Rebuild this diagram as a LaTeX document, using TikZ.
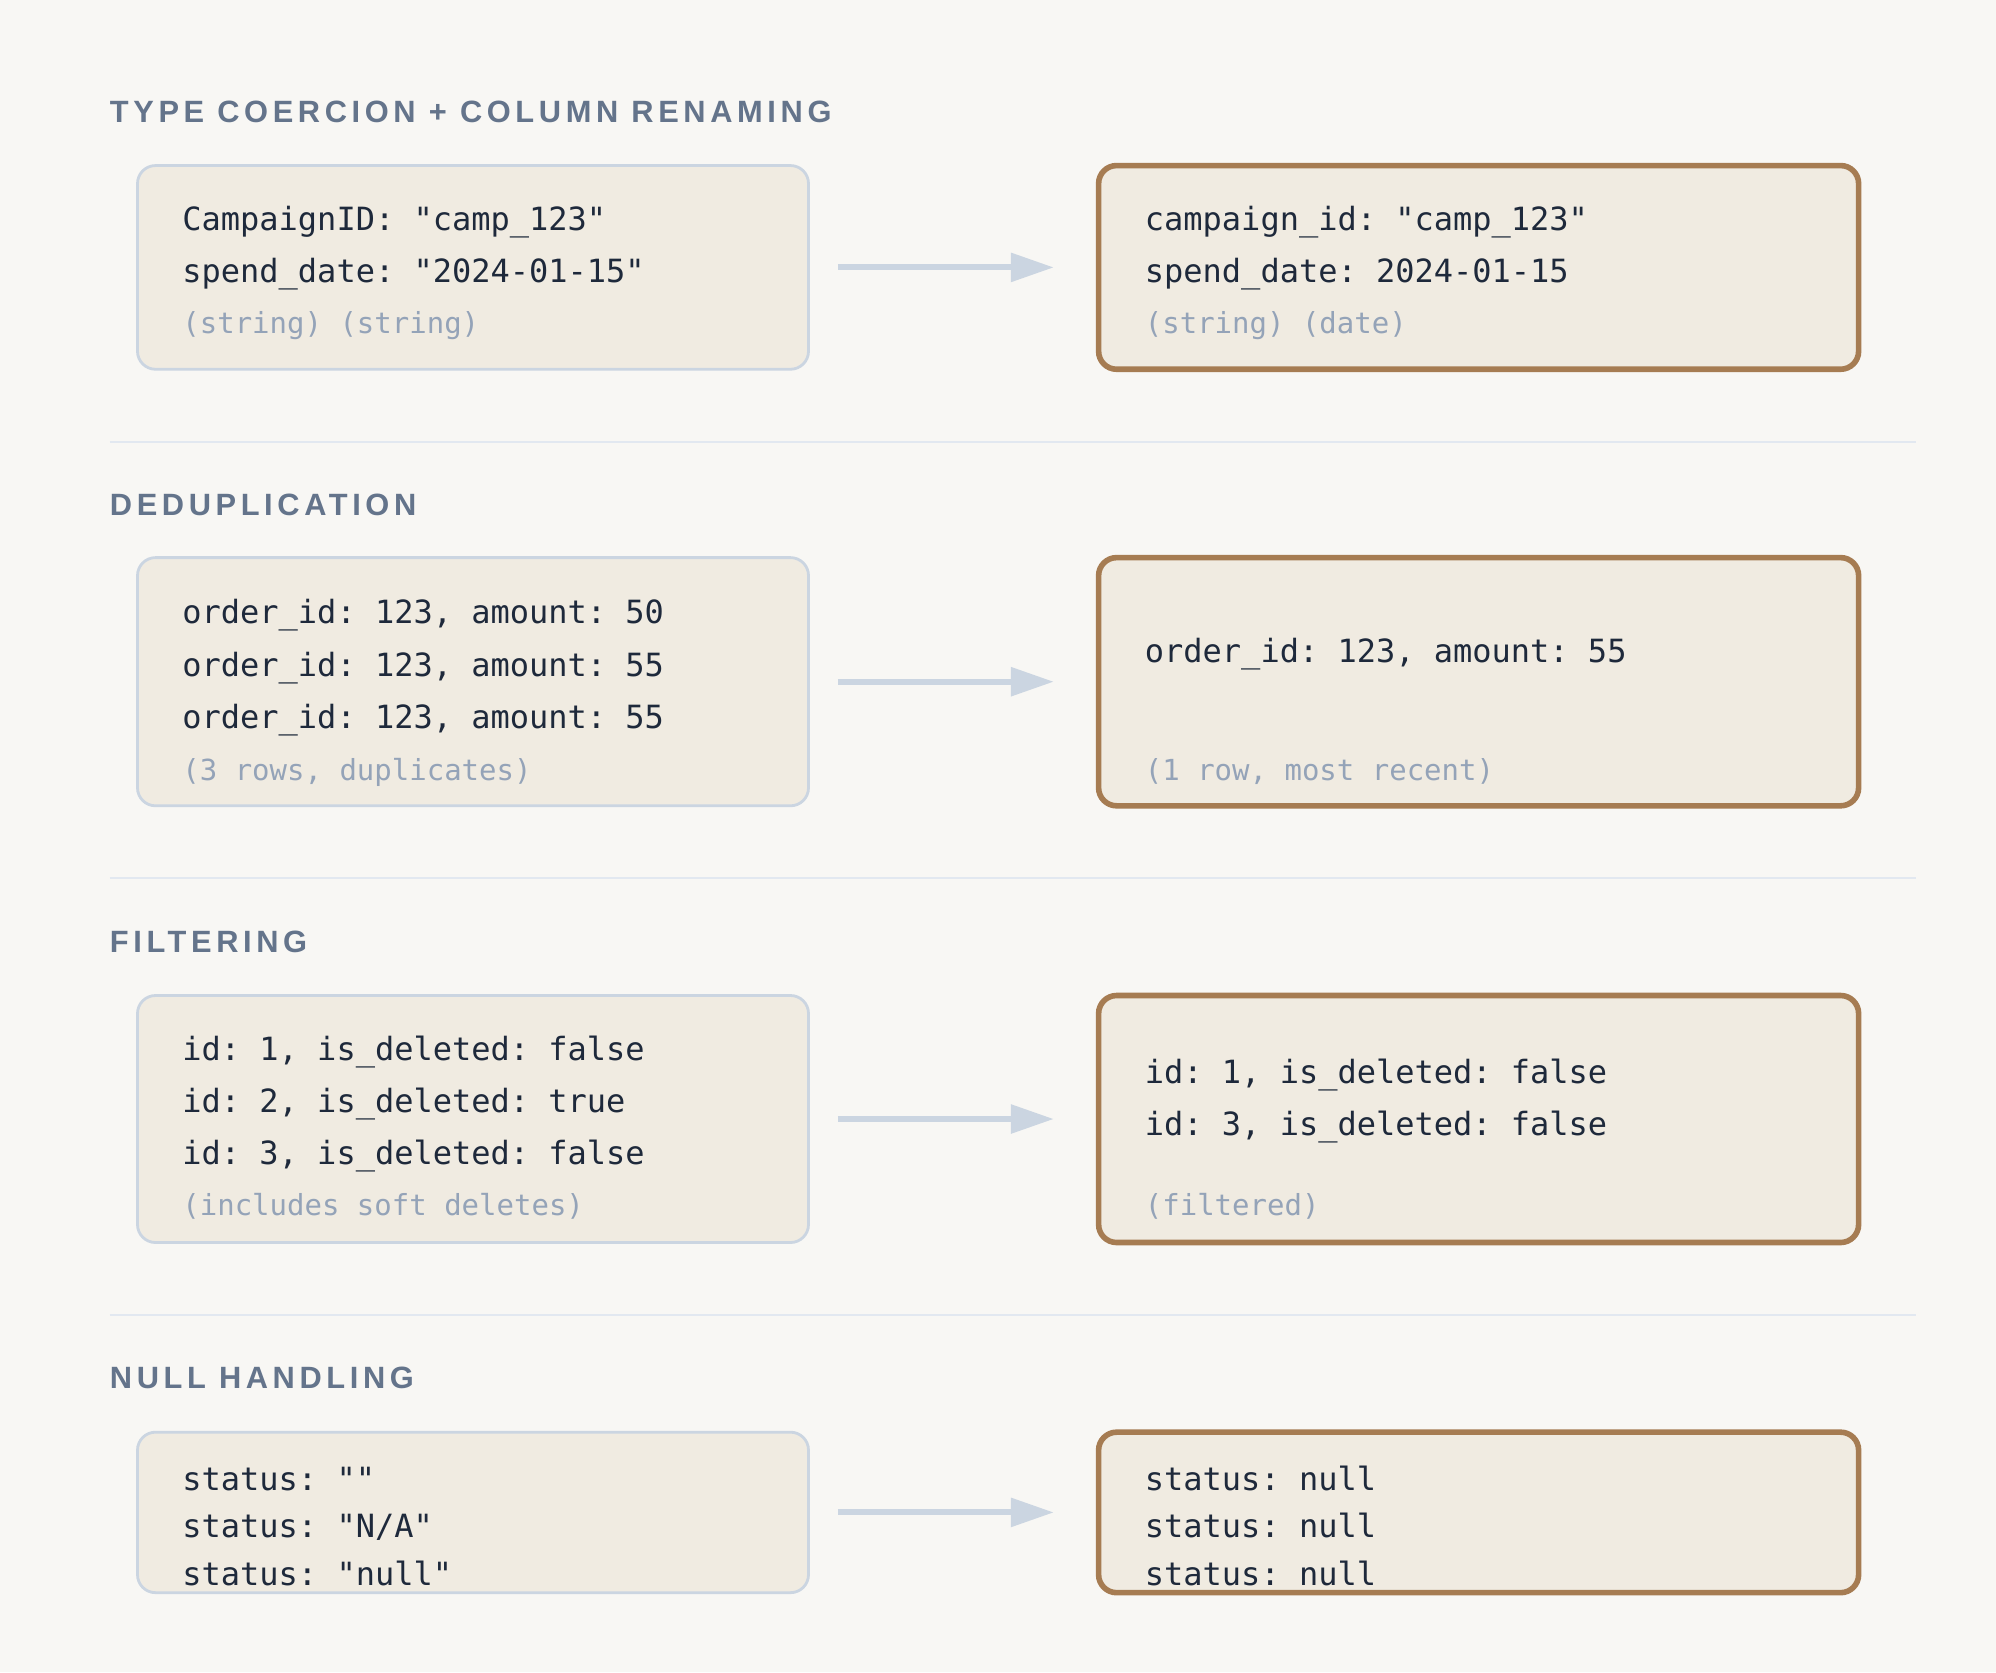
\documentclass[tikz,border=0pt]{standalone}
\usepackage{fontspec}
\setmonofont{DejaVu Sans Mono}
\newfontfamily\headfont[LetterSpace=15]{Liberation Sans}
\usetikzlibrary{arrows.meta}
\definecolor{bg}{HTML}{F8F7F4}
\definecolor{boxfill}{HTML}{F0EBE1}
\definecolor{lborder}{HTML}{CBD5E1}
\definecolor{rborder}{HTML}{A67C52}
\definecolor{ink}{HTML}{1E293B}
\definecolor{note}{HTML}{94A3B8}
\definecolor{head}{HTML}{64748B}
\definecolor{sep}{HTML}{E2E8F0}
\definecolor{arrowc}{HTML}{CBD5E1}
\tikzset{
  lbox/.style={draw=lborder, line width=1.4pt, fill=boxfill, rounded corners=9pt, inner sep=0pt},
  rbox/.style={draw=rborder, line width=2.8pt, fill=boxfill, rounded corners=9pt, inner sep=0pt},
  txt/.style={anchor=base west, inner sep=0pt, text=ink, font=\ttfamily\fontsize{16pt}{19pt}\selectfont},
  notetxt/.style={anchor=base west, inner sep=0pt, text=note, font=\ttfamily\fontsize{14.5pt}{17pt}\selectfont},
  heading/.style={anchor=base west, inner sep=0pt, text=head, font=\headfont\bfseries\fontsize{15.4pt}{18pt}\selectfont},
  sepline/.style={draw=sep, line width=1pt},
  flow/.style={draw=arrowc, line width=3pt, -{Triangle[length=21.5pt,width=14pt]}, shorten <=14pt, shorten >=21pt}
}
\begin{document}
\begin{tikzpicture}[x=0.5pt,y=-0.5pt]
\fill[bg] (0,0) rectangle (1996,1672);
\useasboundingbox (0,0) rectangle (1996,1672);

% headings
\node[heading] (h1) at (109.5,122) {TYPE COERCION + COLUMN RENAMING};
\node[heading] (h2) at (109.5,515) {DEDUPLICATION};
\node[heading] (h3) at (109.5,952) {FILTERING};
\node[heading] (h4) at (109.5,1388) {NULL HANDLING};

% separators
\coordinate (s1a) at (109.5,441.7); \coordinate (s1b) at (1916,441.7);
\coordinate (s2a) at (109.5,878.4); \coordinate (s2b) at (1916,878.4);
\coordinate (s3a) at (109.5,1315); \coordinate (s3b) at (1916,1315);
\draw[sepline] (s1a) -- (s1b);
\draw[sepline] (s2a) -- (s2b);
\draw[sepline] (s3a) -- (s3b);

% boxes
\node[lbox, minimum width=335.5pt, minimum height=101.85pt] (a1) at (473,267.4) {};
\node[rbox, minimum width=380pt, minimum height=101.85pt] (b1) at (1478.6,267.4) {};
\node[lbox, minimum width=335.5pt, minimum height=124.1pt] (a2) at (473,681.7) {};
\node[rbox, minimum width=380pt, minimum height=124.1pt] (b2) at (1478.6,681.7) {};
\node[lbox, minimum width=335.5pt, minimum height=123.5pt] (a3) at (473,1119) {};
\node[rbox, minimum width=380pt, minimum height=123.5pt] (b3) at (1478.6,1119) {};
\node[lbox, minimum width=335.5pt, minimum height=80.25pt] (a4) at (473,1512.4) {};
\node[rbox, minimum width=380pt, minimum height=80.25pt] (b4) at (1478.6,1512.4) {};

% arrows
\draw[flow] (a1.east) -- (b1.west);
\draw[flow] (a2.east) -- (b2.west);
\draw[flow] (a3.east) -- (b3.west);
\draw[flow] (a4.east) -- (b4.west);

% section 1 texts
\node[txt] (a1t1) at (182,230.5) {CampaignID: "camp\_123"};
\node[txt] (a1t2) at (182,282.5) {spend\_date: "2024-01-15"};
\node[notetxt] (a1n) at (182,333) {(string) (string)};
\node[txt] (b1t1) at (1144.5,230.5) {campaign\_id: "camp\_123"};
\node[txt] (b1t2) at (1144.5,282.5) {spend\_date: 2024-01-15};
\node[notetxt] (b1n) at (1144.5,333) {(string) (date)};

% section 2 texts
\node[txt] (a2t1) at (182,623.5) {order\_id: 123, amount: 50};
\node[txt] (a2t2) at (182,676) {order\_id: 123, amount: 55};
\node[txt] (a2t3) at (182,728) {order\_id: 123, amount: 55};
\node[notetxt] (a2n) at (182,780) {(3 rows, duplicates)};
\node[txt] (b2t1) at (1144.5,662) {order\_id: 123, amount: 55};
\node[notetxt] (b2n) at (1144.5,780) {(1 row, most recent)};

% section 3 texts
\node[txt] (a3t1) at (182,1060.5) {id: 1, is\_deleted: false};
\node[txt] (a3t2) at (182,1112.5) {id: 2, is\_deleted: true};
\node[txt] (a3t3) at (182,1164.5) {id: 3, is\_deleted: false};
\node[notetxt] (a3n) at (182,1215.5) {(includes soft deletes)};
\node[txt] (b3t1) at (1144.5,1083.5) {id: 1, is\_deleted: false};
\node[txt] (b3t2) at (1144.5,1135.5) {id: 3, is\_deleted: false};
\node[notetxt] (b3n) at (1144.5,1215.5) {(filtered)};

% section 4 texts
\node[txt] (a4t1) at (182,1490.5) {status: ""};
\node[txt] (a4t2) at (182,1537.5) {status: "N/A"};
\node[txt] (a4t3) at (182,1585) {status: "null"};
\node[txt] (b4t1) at (1144.5,1490.5) {status: null};
\node[txt] (b4t2) at (1144.5,1537.5) {status: null};
\node[txt] (b4t3) at (1144.5,1585) {status: null};
\end{tikzpicture}
\end{document}
